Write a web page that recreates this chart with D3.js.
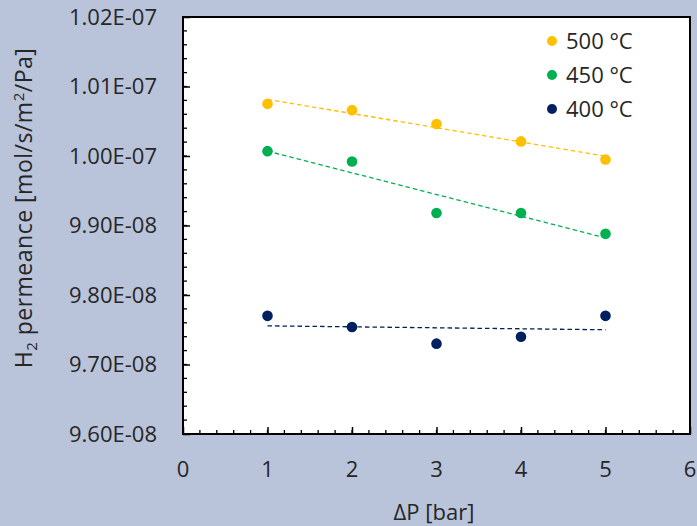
<!DOCTYPE html>
<html>
<head>
<meta charset="utf-8">
<script src="https://cdn.jsdelivr.net/npm/d3@7"></script>
<style>
  html, body { margin: 0; padding: 0; background: #b9c3d9; }
  #chart { width: 697px; height: 526px; }
</style>
</head>
<body>
<div id="chart"></div>
<script>
// Data (permeance values in units of 1e-9 mol/s/m2/Pa)
const pressures = [1, 2, 3, 4, 5];
const series = ["500 °C", "450 °C", "400 °C"];
const colors = ["#ffc000", "#00b050", "#002060"];
const perm500 = [100.75, 100.66, 100.46, 100.21, 99.95];
const perm450 = [100.07, 99.92, 99.18, 99.18, 98.88];
const perm400 = [97.70, 97.54, 97.30, 97.40, 97.70];
const yTicks = [96, 97, 98, 99, 100, 101, 102];
const xTicks = [0, 1, 2, 3, 4, 5, 6];

const allValues = [perm500, perm450, perm400];

function draw() {
  const width = 697, height = 526;
  const margin = { left: 183, top: 17, right: 7, bottom: 92 };
  const ctrWidth = width - margin.left - margin.right;
  const ctrHeight = height - margin.top - margin.bottom;
  const font = "'Open Sans', sans-serif";
  const textColor = "#262626";

  const svg = d3.select("#chart")
    .append("svg")
    .attr("width", width)
    .attr("height", height);

  const ctr = svg.append("g")
    .attr("transform", `translate(${margin.left}, ${margin.top})`);

  // Scales
  const xScale = d3.scaleLinear().domain([0, 6]).range([0, ctrWidth]);
  const yScale = d3.scaleLinear().domain([96, 102]).range([ctrHeight, 0]);

  // plot background
  ctr.append("rect")
    .attr("width", ctrWidth)
    .attr("height", ctrHeight)
    .attr("fill", "white");

  // format like Excel: 1.02E-07
  const sciFormat = (v) => {
    const parts = (v * 1e-9).toExponential(2).split("e");
    const exp = parseInt(parts[1]);
    const sign = exp < 0 ? "-" : "+";
    return `${parts[0]}E${sign}${String(Math.abs(exp)).padStart(2, "0")}`;
  };

  // minor ticks (inside)
  const yMinor = d3.range(96, 102.001, 0.2);
  ctr.append("g")
    .selectAll("line")
    .data(yMinor)
    .enter()
    .append("line")
    .attr("x1", 0)
    .attr("x2", 4)
    .attr("y1", (d) => yScale(d))
    .attr("y2", (d) => yScale(d))
    .attr("stroke", "black")
    .attr("stroke-width", 1.3);

  const xMinor = d3.range(0, 6.001, 0.2);
  ctr.append("g")
    .selectAll("line")
    .data(xMinor)
    .enter()
    .append("line")
    .attr("x1", (d) => xScale(d))
    .attr("x2", (d) => xScale(d))
    .attr("y1", ctrHeight)
    .attr("y2", ctrHeight - 4)
    .attr("stroke", "black")
    .attr("stroke-width", 1.3);

  // Axes, ticks inside
  const yAxis = d3.axisRight(yScale)
    .tickValues(yTicks)
    .tickSize(7)
    .tickFormat("");
  ctr.append("g")
    .call(yAxis)
    .call((g) => g.select(".domain").remove())
    .selectAll("line")
    .attr("stroke-width", 1.5);

  const xAxis = d3.axisTop(xScale)
    .tickValues(xTicks)
    .tickSize(7)
    .tickFormat("");
  ctr.append("g")
    .attr("transform", `translate(0, ${ctrHeight})`)
    .call(xAxis)
    .call((g) => g.select(".domain").remove())
    .selectAll("line")
    .attr("stroke-width", 1.5);

  // tick labels
  ctr.append("g")
    .selectAll("text")
    .data(yTicks)
    .enter()
    .append("text")
    .attr("x", -26)
    .attr("y", (d) => yScale(d))
    .attr("dy", "0.36em")
    .attr("text-anchor", "end")
    .style("font-family", font)
    .style("font-size", "22px")
    .style("fill", textColor)
    .text(sciFormat);

  ctr.append("g")
    .selectAll("text")
    .data(xTicks)
    .enter()
    .append("text")
    .attr("x", (d) => xScale(d))
    .attr("y", ctrHeight + 43)
    .attr("text-anchor", "middle")
    .style("font-family", font)
    .style("font-size", "22px")
    .style("fill", textColor)
    .text((d) => d);

  // frame
  ctr.append("rect")
    .attr("width", ctrWidth)
    .attr("height", ctrHeight)
    .attr("fill", "none")
    .attr("stroke", "black")
    .attr("stroke-width", 2);

  // trendlines (least squares)
  allValues.forEach((vals, i) => {
    const mx = d3.mean(pressures);
    const my = d3.mean(vals);
    const slope = d3.sum(pressures, (p, j) => (p - mx) * (vals[j] - my)) /
      d3.sum(pressures, (p) => (p - mx) * (p - mx));
    const icpt = my - slope * mx;
    const x0 = d3.min(pressures), x1 = d3.max(pressures);
    ctr.append("line")
      .attr("x1", xScale(x0))
      .attr("y1", yScale(icpt + slope * x0))
      .attr("x2", xScale(x1))
      .attr("y2", yScale(icpt + slope * x1))
      .attr("stroke", colors[i])
      .attr("stroke-width", 1.3)
      .attr("stroke-dasharray", "4.5,3");
  });

  // points
  allValues.forEach((vals, i) => {
    ctr.append("g")
      .selectAll("circle")
      .data(vals)
      .enter()
      .append("circle")
      .attr("cx", (d, j) => xScale(pressures[j]))
      .attr("cy", (d) => yScale(d))
      .attr("r", 5.3)
      .attr("fill", colors[i]);
  });

  // legend
  const legend = svg.append("g")
    .attr("transform", "translate(552, 41)");
  series.forEach((s, i) => {
    const row = legend.append("g")
      .attr("transform", `translate(0, ${i * 34})`);
    row.append("circle")
      .attr("r", 5)
      .attr("fill", colors[i]);
    row.append("text")
      .attr("x", 14)
      .attr("dy", "0.36em")
      .style("font-family", font)
      .style("font-size", "22px")
      .style("fill", textColor)
      .text(s);
  });

  // axis titles
  svg.append("text")
    .attr("x", 434)
    .attr("y", 520)
    .attr("text-anchor", "middle")
    .style("font-family", font)
    .style("font-size", "22px")
    .style("fill", textColor)
    .text("ΔP [bar]");

  const yTitle = svg.append("text")
    .attr("transform", "translate(32, 208) rotate(-90)")
    .attr("text-anchor", "middle")
    .style("font-family", font)
    .style("font-size", "23px")
    .style("letter-spacing", "0.5px")
    .style("fill", textColor);
  yTitle.append("tspan").text("H");
  yTitle.append("tspan").attr("dy", 5).style("font-size", "15px").text("2");
  yTitle.append("tspan").attr("dy", -5).text(" permeance [mol/s/m");
  yTitle.append("tspan").attr("dy", -8).style("font-size", "15px").text("2");
  yTitle.append("tspan").attr("dy", 8).text("/Pa]");
}

draw();
</script>
</body>
</html>
